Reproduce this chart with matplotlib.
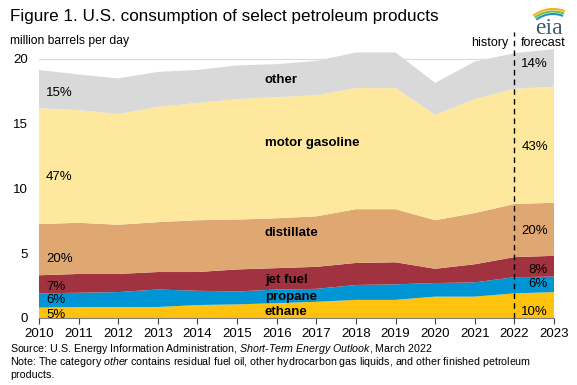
import numpy as np
import matplotlib
matplotlib.use("Agg")
import matplotlib.pyplot as plt
from matplotlib.patches import Arc

plt.rcParams['font.family'] = ['Liberation Sans', 'DejaVu Sans']
plt.rcParams['mathtext.fontset'] = 'custom'
plt.rcParams['mathtext.rm'] = 'Liberation Sans'
plt.rcParams['mathtext.it'] = 'Liberation Sans:italic'

years = [2010, 2011, 2012, 2013, 2014, 2015, 2016, 2017, 2018, 2019, 2020, 2021, 2022, 2023]

# million barrels per day
ethane = [0.8, 0.85, 0.85, 0.85, 1.0, 1.05, 1.15, 1.25, 1.4, 1.4, 1.65, 1.65, 1.9, 2.0]
propane = [1.1, 1.1, 1.15, 1.35, 1.1, 1.0, 1.05, 1.0, 1.15, 1.2, 1.05, 1.1, 1.25, 1.2]
jet_fuel = [1.4, 1.45, 1.4, 1.35, 1.45, 1.7, 1.65, 1.7, 1.7, 1.7, 1.1, 1.4, 1.55, 1.6]
distillate = [3.95, 3.95, 3.8, 3.85, 4.0, 3.85, 3.85, 3.9, 4.15, 4.1, 3.75, 3.95, 4.1, 4.1]
motor_gasoline = [8.95, 8.7, 8.55, 8.9, 9.05, 9.3, 9.35, 9.35, 9.35, 9.35, 8.15, 8.8, 8.9, 8.95]
other = [2.95, 2.75, 2.75, 2.7, 2.55, 2.6, 2.55, 2.65, 2.75, 2.75, 2.45, 2.9, 2.75, 2.9]

series_names = ['ethane', 'propane', 'jet fuel', 'distillate', 'motor gasoline', 'other']
colors = ['#FFC20E', '#0096D6', '#A1323F', '#DFA873', '#FDE89E', '#D9D9D9']
left_pct = ['5%', '6%', '7%', '20%', '47%', '15%']
right_pct = ['10%', '6%', '8%', '20%', '43%', '14%']

fig = plt.figure(figsize=(5.77, 3.85), dpi=100)
W, H = 577, 385
ax = fig.add_axes([39 / W, (H - 318) / H, (554 - 39) / W, (318 - 46) / H])

ax.stackplot(years, ethane, propane, jet_fuel, distillate, motor_gasoline, other,
             colors=colors, linewidth=0, zorder=2)
ax.set_xlim(2010, 2023)
ax.set_ylim(0, 21)
ax.set_yticks([0, 5, 10, 15, 20])
ax.set_xticks(years)
ax.set_xticklabels([str(y) for y in years])
ax.grid(axis='y', color='#D9D9D9', linewidth=0.8, zorder=0)
for s in ['top', 'right', 'left']:
    ax.spines[s].set_visible(False)
ax.spines['bottom'].set_color('#7F7F7F')
ax.tick_params(axis='y', length=0, labelsize=9.5, pad=8)
ax.tick_params(axis='x', length=4, color='#404040', labelsize=9.5, pad=3)

# history / forecast divider
ax.axvline(2022, ymin=0, ymax=1.05, color='black', linestyle=(0, (4, 3)),
           linewidth=1, clip_on=False, zorder=3)
ax.text(2021.85, 20.75, 'history', ha='right', va='bottom', fontsize=9)
ax.text(2022.15, 20.75, 'forecast', ha='left', va='bottom', fontsize=9)

# series labels
label_y = [0.45, 1.6, 2.95, 6.55, 13.5, 18.4]
for name, y in zip(series_names, label_y):
    ax.text(2015.7, y, name, fontsize=9.5, fontweight='bold', ha='left', va='center', zorder=4)

left_y = [0.25, 1.4, 2.4, 4.55, 10.85, 17.4]
right_y = [0.45, 2.6, 3.7, 6.75, 13.2, 19.6]
for lp, ly in zip(left_pct, left_y):
    ax.text(2010.18, ly, lp, fontsize=9.5, ha='left', va='center', zorder=4)
for rp, ry in zip(right_pct, right_y):
    ax.text(2022.85, ry, rp, fontsize=9.5, ha='right', va='center', zorder=4)

fig.text(10 / W, 1 - 17 / H, 'Figure 1. U.S. consumption of select petroleum products',
         fontsize=12.3, ha='left', va='center')
fig.text(10 / W, 1 - 41 / H, 'million barrels per day', fontsize=8.7, ha='left', va='center')

# footnotes (mathtext only for the italic words)
fig.text(10 / W, 1 - 352 / H,
         'Source: U.S. Energy Information Administration, '
         '$\\mathit{Short\u2010Term\\ Energy\\ Outlook}$, March 2022',
         fontsize=7.7, ha='left', va='baseline')
fig.text(10 / W, 1 - 365 / H,
         'Note: The category $\\mathit{other}$ contains residual fuel oil, other hydrocarbon '
         'gas liquids, and other finished petroleum',
         fontsize=7.7, ha='left', va='baseline')
fig.text(10 / W, 1 - 378 / H, 'products.', fontsize=7.7, ha='left', va='baseline')

# eia logo
fig.text(549 / W, 1 - 34 / H, 'eia', family='Liberation Serif', fontsize=17,
         color='#3E5C76', ha='center', va='baseline')
lax = fig.add_axes([0, 0, 1, 1], zorder=5)
lax.set_xlim(0, W)
lax.set_ylim(H, 0)
lax.axis('off')
for r, c in zip([32, 29.5, 27], ['#F6B217', '#7BBF41', '#1E8FD5']):
    lax.add_patch(Arc((553, 41), 2 * r, 2 * r, theta1=232, theta2=292, color=c, linewidth=1.5))

fig.savefig('out.png', dpi=100)
